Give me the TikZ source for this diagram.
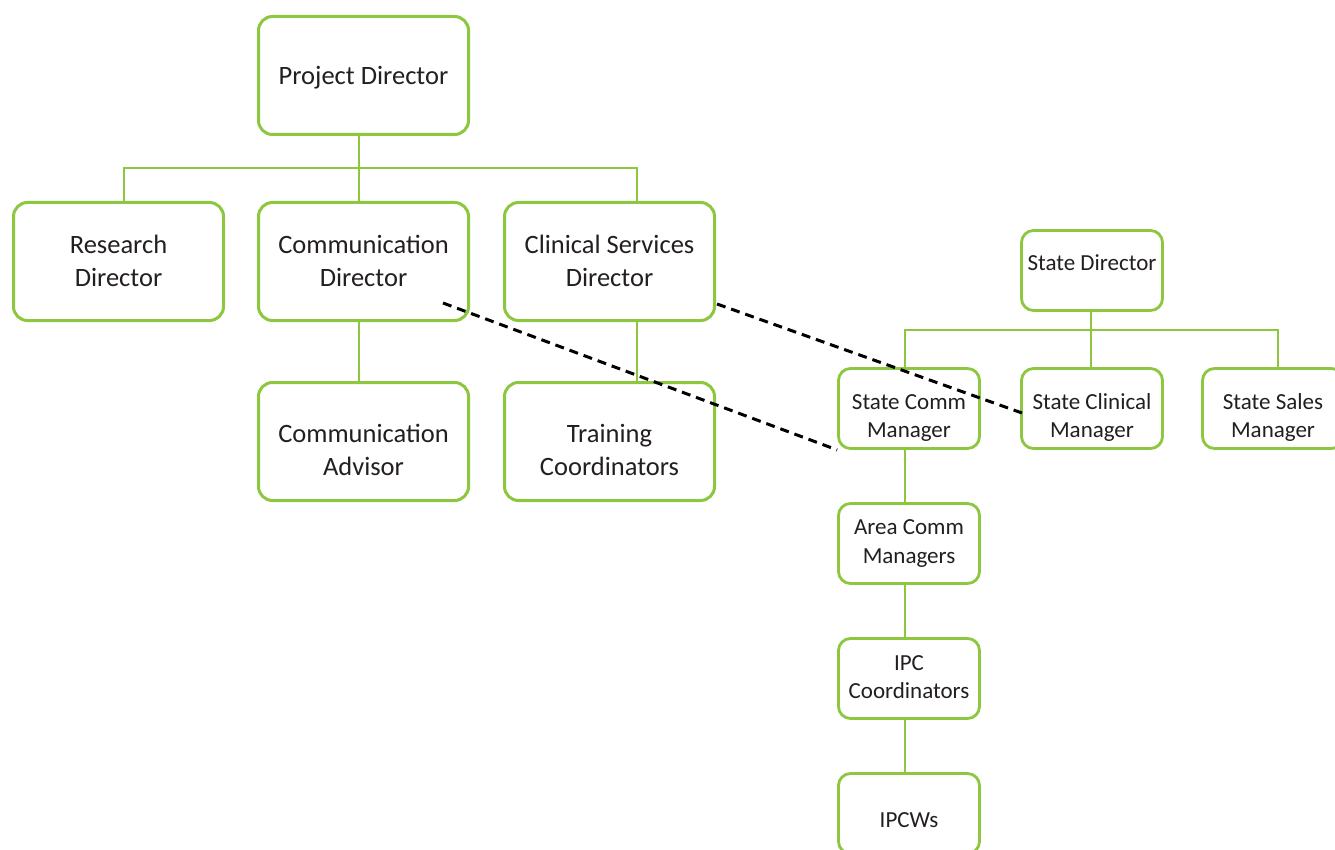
\documentclass[tikz,border=0pt]{standalone}
\usepackage{fontspec}
\setmainfont{Carlito}
\definecolor{boxgreen}{HTML}{8DC63F}
\definecolor{txt}{HTML}{231F20}
\newcommand\btext[2]{\raisebox{#1}[\height][\depth]{\begin{tabular}{@{}c@{}}#2\end{tabular}}}
\begin{document}
\begin{tikzpicture}[x=1pt,y=-1pt,
  bigbox/.style={draw=boxgreen, line width=3pt, rounded corners=14pt, fill=white,
    minimum width=210pt, minimum height=118pt, text=txt,
    font=\fontsize{26.5}{32.5}\selectfont, inner sep=0pt},
  smallbox/.style={draw=boxgreen, line width=2.8pt, rounded corners=12pt, fill=white,
    minimum width=141pt, minimum height=80pt, text=txt,
    font=\fontsize{23}{28.5}\selectfont, inner sep=0pt},
  conn/.style={draw=boxgreen, line width=2pt},
  dashline/.style={draw=black, line width=3pt, dash pattern=on 9pt off 6pt}]
\useasboundingbox (0,0) rectangle (1335,850);
% left organisation
\node[bigbox] (pd) at (363.5,75.5) {\btext{-3pt}{Project Director}};
\node[bigbox] (rd) at (118.5,261.5) {\btext{-2pt}{Research\\Director}};
\node[bigbox] (cd) at (363.5,261.5) {\btext{-2pt}{Communication\\Director}};
\node[bigbox] (csd) at (609.5,261.5) {\btext{-2pt}{Clinical Services\\Director}};
\node[bigbox] (ca) at (363.5,441.5) {\btext{-11pt}{Communication\\Advisor}};
\node[bigbox] (tc) at (609.5,441.5) {\btext{-11pt}{Training\\Coordinators}};
\coordinate (bl) at (124,168);
\coordinate (bm) at (359,168);
\coordinate (br) at (637,168);
\draw[conn] (bl |- rd.north) -- (bl) -- (br) -- (br |- csd.north);
\draw[conn] (bm |- pd.south) -- (bm |- cd.north);
\draw[conn] (bm |- cd.south) -- (bm |- ca.north);
\draw[conn] (br |- csd.south) -- (br |- tc.north);
% right organisation
\node[smallbox] (sd) at (1092,270.5) {\btext{6pt}{State Director}};
\node[smallbox] (scm) at (909,408.5) {\btext{-9.5pt}{State Comm\\Manager}};
\node[smallbox] (scl) at (1092,408.5) {\btext{-9.5pt}{State Clinical\\Manager}};
\node[smallbox] (ssm) at (1273,408.5) {\btext{-9.5pt}{State Sales\\Manager}};
\node[smallbox] (acm) at (909,543.5) {\btext{0pt}{Area Comm\\Managers}};
\node[smallbox] (ipc) at (909,678.5) {\btext{-0.5pt}{IPC\\Coordinators}};
\node[smallbox] (ipcw) at (909,813.5) {\btext{-8pt}{IPCWs}};
\coordinate (sl) at (905,330);
\coordinate (sm) at (1091,330);
\coordinate (sr) at (1278,330);
\draw[conn] (sl |- scm.north) -- (sl) -- (sr) -- (sr |- ssm.north);
\draw[conn] (sm |- sd.south) -- (sm |- scl.north);
\draw[conn] (sl |- scm.south) -- (sl |- acm.north);
\draw[conn] (sl |- acm.south) -- (sl |- ipc.north);
\draw[conn] (sl |- ipc.south) -- (sl |- ipcw.north);
% dotted links
\coordinate (d1) at (443,303);
\coordinate (d2) at (717,304);
\coordinate (e2) at (1022,413);
\draw[dashline] (d1) -- (scm.south west);
\draw[dashline] (d2) -- (e2);
\end{tikzpicture}
\end{document}
